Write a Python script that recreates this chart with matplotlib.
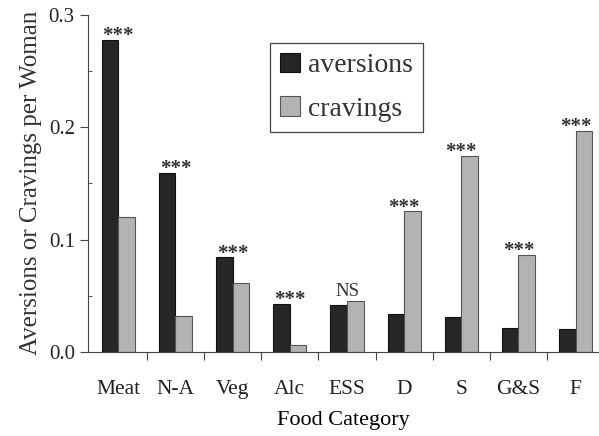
import numpy as np
import matplotlib
matplotlib.use("Agg")
import matplotlib.pyplot as plt
from matplotlib.ticker import MultipleLocator, FixedLocator, NullFormatter

plt.rcParams['font.family'] = ['Liberation Serif', 'DejaVu Serif']

# data
categories = ['Meat', 'N-A', 'Veg', 'Alc', 'ESS', 'D', 'S', 'G&S', 'F']
aversions = [0.278, 0.159, 0.084, 0.043, 0.042, 0.034, 0.031, 0.021, 0.020]
cravings = [0.120, 0.032, 0.061, 0.006, 0.045, 0.125, 0.174, 0.086, 0.197]
signif = ['***', '***', '***', '***', 'NS', '***', '***', '***', '***']

dark = '#262626'
light = '#b3b3b3'

fig = plt.figure(figsize=(5.99, 4.36), dpi=100)
ax = fig.add_axes([0.147, 0.193, 0.853, 0.773])

x = np.arange(len(categories))
w = 0.29
ax.bar(x - w/2, aversions, w, color=dark, edgecolor='#111111', linewidth=0.8, label='aversions')
ax.bar(x + w/2, cravings, w, color=light, edgecolor='#555555', linewidth=0.8, label='cravings')

for i in range(len(categories)):
	top = max(aversions[i], cravings[i])
	if signif[i] == 'NS':
		ax.text(x[i], top + 0.001, 'NS', ha='center', va='bottom', fontsize=13.5, color='#333333')
	else:
		ax.text(x[i], top - 0.001, signif[i], ha='center', va='baseline', fontsize=15,
			fontweight='bold', color='#333333')

ax.set_xlim(-0.53, 8.41)
ax.set_ylim(0, 0.3)

ax.spines['top'].set_visible(False)
ax.spines['right'].set_visible(False)
ax.spines['left'].set_color('#444444')
ax.spines['bottom'].set_color('#444444')

ax.set_yticks([0, 0.1, 0.2, 0.3])
ax.set_yticklabels(['0.0', '0.1', '0.2', '0.3'])
ax.yaxis.set_minor_locator(MultipleLocator(0.05))
ax.tick_params(axis='y', which='major', direction='out', length=6, labelsize=15, colors='#444444', labelcolor='#222222')
ax.tick_params(axis='y', which='minor', direction='in', length=3, colors='#444444')

# separators between categories as major ticks, labels as minor ticks
ax.xaxis.set_major_locator(FixedLocator(x[:-1] + 0.5))
ax.xaxis.set_major_formatter(NullFormatter())
ax.xaxis.set_minor_locator(FixedLocator(x))
ax.set_xticklabels(categories, minor=True)
ax.tick_params(axis='x', which='major', direction='out', length=6, colors='#444444')
ax.tick_params(axis='x', which='minor', length=0, pad=20, labelsize=15.5, labelcolor='#222222')

ax.set_ylabel('Aversions or Cravings per Woman', fontsize=18, color='#333333', labelpad=5)
ax.set_xlabel('Food Category', fontsize=16, color='black', labelpad=9)

leg = ax.legend(loc='upper left', bbox_to_anchor=(0.356, 0.917), fontsize=20, frameon=True,
	fancybox=False, edgecolor='#444444', framealpha=1, handlelength=0.72, handleheight=0.72,
	handletextpad=0.3, labelspacing=0.65, borderpad=0.35, borderaxespad=0)
leg.get_frame().set_linewidth(0.9)
for t in leg.get_texts():
	t.set_color('#333333')

fig.savefig('out.png', dpi=100)
